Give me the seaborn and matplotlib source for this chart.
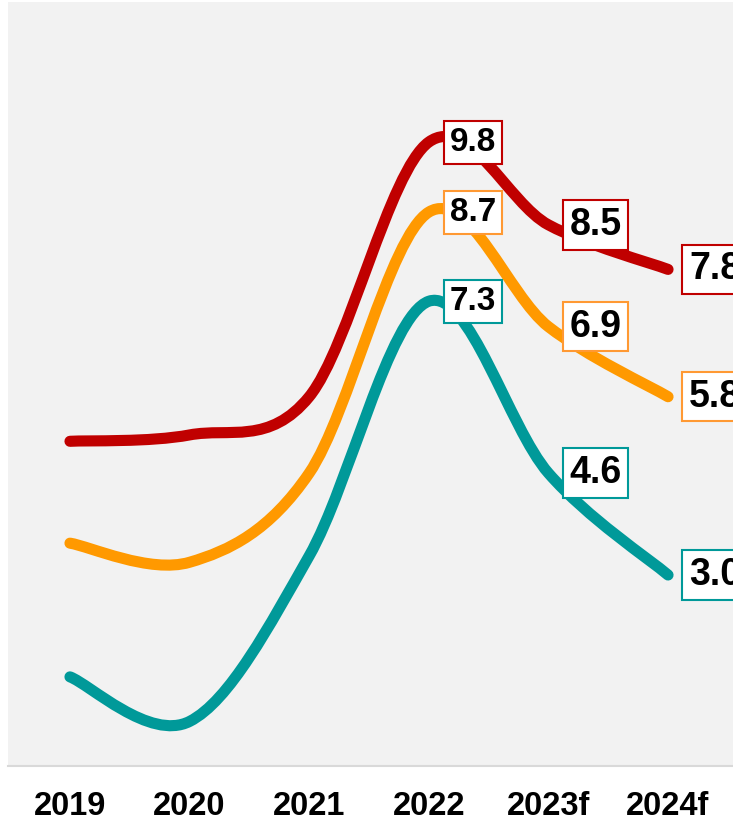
import matplotlib
matplotlib.use("Agg")
import matplotlib.pyplot as plt
from matplotlib.path import Path
from matplotlib.patches import PathPatch
import seaborn as sns

years = ["2019", "2020", "2021", "2022", "2023f", "2024f"]
high = [5.1, 5.2, 5.8, 9.8, 8.5, 7.8]
mid = [3.5, 3.2, 4.6, 8.7, 6.9, 5.8]
low = [1.4, 0.7, 3.3, 7.3, 4.6, 3.0]
colors = ["#C00000", "#FF9900", "#009999"]
edge_colors = ["#C00000", "#FF9933", "#009999"]
labelled = [3, 4, 5]

sns.set_theme(style="white")
plt.rcParams["font.family"] = ["Liberation Sans", "DejaVu Sans"]

fig = plt.figure(figsize=(7.33, 8.19), dpi=100)
ax = fig.add_axes([8 / 733, 53 / 819, 1 - 8 / 733, 764 / 819])
ax.set_facecolor("#F2F2F2")


def smooth_path(xs, ys):
    """Cubic Bezier through every point (Catmull-Rom tangents)."""
    pts = list(zip(xs, ys))
    n = len(pts)
    verts = [pts[0]]
    codes = [Path.MOVETO]
    for i in range(n - 1):
        p0 = pts[i - 1] if i > 0 else pts[i]
        p1 = pts[i]
        p2 = pts[i + 1]
        p3 = pts[i + 2] if i + 2 < n else pts[i + 1]
        c1 = (p1[0] + (p2[0] - p0[0]) / 6, p1[1] + (p2[1] - p0[1]) / 6)
        c2 = (p2[0] - (p3[0] - p1[0]) / 6, p2[1] - (p3[1] - p1[1]) / 6)
        verts += [c1, c2, p2]
        codes += [Path.CURVE4] * 3
    return Path(verts, codes)


xpos = list(range(len(years)))
for vals, col, ecol in zip([high, mid, low], colors, edge_colors):
    patch = PathPatch(smooth_path(xpos, vals), facecolor="none", edgecolor=col,
                      lw=8, capstyle="round", joinstyle="round", zorder=3)
    ax.add_patch(patch)
    for i in labelled:
        size = 24 if i == 3 else 27
        ax.annotate(f"{vals[i]:.1f}", (xpos[i], vals[i]), xytext=(15, 0),
                    textcoords="offset points", ha="left", va="center",
                    fontsize=size, fontweight="bold", color="black",
                    bbox=dict(boxstyle="square,pad=0.18", fc="white",
                              ec=ecol, lw=1.5),
                    zorder=5, annotation_clip=False)

ax.set_xlim(-0.518, 5.543)
ax.set_ylim(0, 12)
ax.set_xticks(xpos)
ax.set_xticklabels(years, fontsize=23.5, fontweight="bold")
ax.set_yticks([])
ax.tick_params(axis="x", length=0, pad=18, colors="black")
sns.despine(ax=ax, left=True, right=True, top=True)
ax.spines["bottom"].set_color("#D9D9D9")
ax.spines["bottom"].set_linewidth(1.5)

fig.savefig("out.png", dpi=100, facecolor="white")
